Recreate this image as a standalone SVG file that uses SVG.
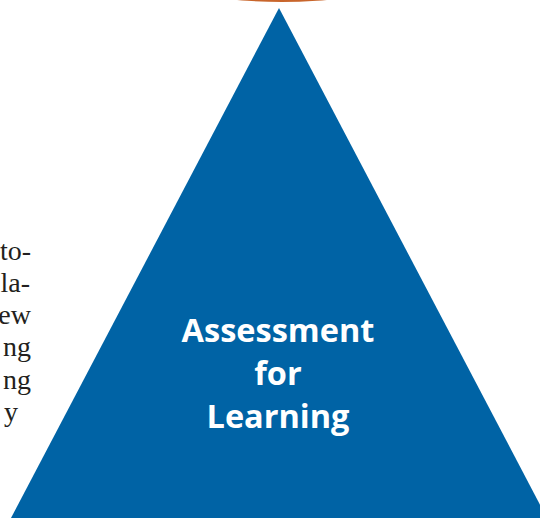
<svg xmlns="http://www.w3.org/2000/svg" width="540" height="518" viewBox="0 0 540 518">
<defs>
<style>
.body{font-family:"Liberation Serif","Times New Roman",serif;font-size:28px;fill:#231F20}
.lbl{font-family:"Open Sans","Noto Sans",sans-serif;font-weight:bold;font-size:32.5px;fill:#FFFFFF;text-anchor:middle}
</style>
<linearGradient id="og" x1="0" y1="0" x2="0" y2="1">
<stop offset="0" stop-color="#E58A4A"/>
<stop offset="1" stop-color="#C8652B"/>
</linearGradient>
</defs>
<rect width="540" height="518" fill="#FFFFFF"/>
<g id="top-node">
<ellipse cx="282" cy="-60" rx="178" ry="62" fill="url(#og)"/>
</g>
<g id="page-text" class="body" text-anchor="end">
<text x="31" y="260">to-</text>
<text x="30" y="292">la-</text>
<text x="31" y="324">ew</text>
<text x="31" y="356">ng</text>
<text x="31" y="389">ng</text>
<text x="18" y="421">y</text>
</g>
<g id="triangle-node">
<polygon points="279,8 11,518 547,518" fill="#0063A5"/>
<text class="lbl" x="278" y="342">Assessment</text>
<text class="lbl" x="278" y="385">for</text>
<text class="lbl" x="278" y="428">Learning</text>
</g>
<g id="connectors"/>
</svg>
